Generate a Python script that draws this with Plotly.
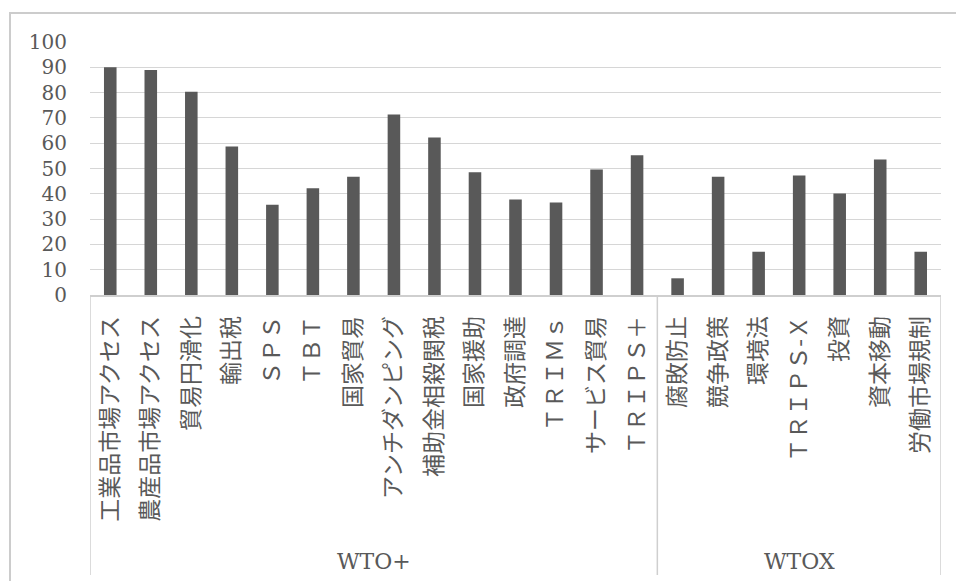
import plotly.graph_objects as go

# Categories and shares (%) for the two groups of provisions
wto_plus_labels = [
    "工業品市場アクセス", "農産品市場アクセス", "貿易円滑化", "輸出税", "ＳＰＳ",
    "ＴＢＴ", "国家貿易", "アンチダンピング", "補助金相殺関税", "国家援助",
    "政府調達", "ＴＲＩＭｓ", "サービス貿易", "ＴＲＩＰＳ＋",
]
wto_plus_values = [90.0, 88.9, 80.3, 58.7, 35.7, 42.2, 46.7, 71.3, 62.3, 48.5,
                   37.7, 36.6, 49.6, 55.2]

wtox_labels = ["腐敗防止", "競争政策", "環境法", "ＴＲＩＰＳ-Ｘ", "投資", "資本移動", "労働市場規制"]
wtox_values = [6.6, 46.7, 17.1, 47.2, 40.1, 53.6, 17.1]

group_names = ["WTO+", "WTOX"]

y_ticks = list(range(0, 101, 10))

categories = wto_plus_labels + wtox_labels
values = wto_plus_values + wtox_values

W, H = 956, 581
L, R, T, B = 90, 15, 42, 286
plot_w = W - L - R
plot_h = H - T - B

TEXT = "#595959"
SERIF = "DejaVu Serif, Noto Sans CJK JP, serif"


def px_x(px):
    return (px - L) / plot_w


def px_y(py):
    return (H - B - py) / plot_h


fig = go.Figure(
    go.Bar(
        x=list(range(len(categories))),
        y=values,
        marker=dict(color="#595959", line=dict(width=0)),
        width=0.31,
        hoverinfo="x+y",
    )
)

n1 = len(wto_plus_labels)
n = len(categories)
line_style = dict(color="#cfcfcf", width=1.5)

shapes = []
# outer chart frame
shapes.append(dict(type="rect", xref="paper", yref="paper",
                   x0=px_x(10), x1=px_x(970), y0=px_y(600), y1=px_y(13),
                   line=dict(color="#cccccc", width=2), layer="below"))
# group separators under the category axis
for xb in [-0.5, n1 - 0.5, n - 0.5]:
    shapes.append(dict(type="line", xref="x", yref="paper",
                       x0=xb, x1=xb, y0=0, y1=px_y(575), line=line_style))

annotations = []
for name, lo, hi in [(group_names[0], 0, n1 - 1), (group_names[1], n1, n - 1)]:
    annotations.append(dict(text=name, xref="x", yref="paper",
                            x=(lo + hi) / 2, y=px_y(562), showarrow=False,
                            xanchor="center", yanchor="middle",
                            font=dict(family=SERIF, size=22, color=TEXT)))

fig.update_layout(
    width=W, height=H,
    margin=dict(l=L, r=R, t=T, b=B),
    paper_bgcolor="white", plot_bgcolor="white",
    showlegend=False,
    shapes=shapes,
    annotations=annotations,
    xaxis=dict(
        range=[-0.5, n - 0.5],
        tickmode="array",
        tickvals=list(range(n)),
        ticktext=categories,
        tickangle=-90,
        ticks="",
        ticklabelstandoff=10,
        showgrid=False,
        zeroline=False,
        showline=True, linecolor="#cfcfcf", linewidth=1.5,
        tickfont=dict(family=SERIF, size=23, color=TEXT),
        fixedrange=True,
    ),
    yaxis=dict(
        range=[0, 100],
        tickmode="array",
        tickvals=y_ticks,
        ticktext=[str(v) for v in y_ticks],
        showgrid=True, gridcolor="#d6d6d6", gridwidth=1.3,
        zeroline=False, showline=False,
        ticks="",
        ticklabelstandoff=22,
        tickfont=dict(family=SERIF, size=20, color=TEXT),
        fixedrange=True,
    ),
)

fig.write_html("out.html")
